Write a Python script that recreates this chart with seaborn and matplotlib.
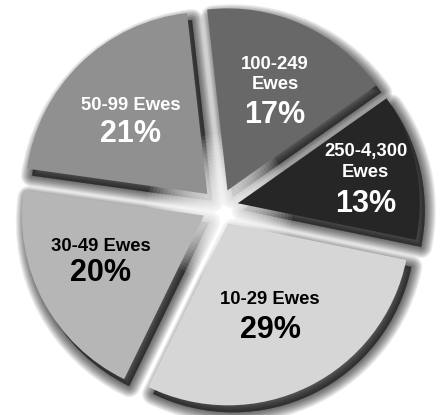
import matplotlib
matplotlib.use("Agg")
import matplotlib.pyplot as plt
import matplotlib.transforms as mtrans
import seaborn as sns
import numpy as np
from matplotlib.patches import Wedge, Circle

# ---- data ----
categories = ["250-4,300\nEwes", "100-249\nEwes", "50-99 Ewes", "30-49 Ewes", "10-29 Ewes"]
shares = [13, 17, 21, 20, 29]
pct_labels = ["13%", "17%", "21%", "20%", "29%"]
slice_colors = ["#262626", "#686868", "#909090", "#b6b6b6", "#d6d6d6"]
text_colors = ["white", "white", "white", "black", "black"]

sns.set_theme(style="white")
plt.rcParams["font.family"] = ["Liberation Sans", "DejaVu Sans"]

fig = plt.figure(figsize=(4.4, 4.15), dpi=100)
ax = fig.add_axes([0, 0, 1, 1])
ax.set_axis_off()

R = 182.0
explode = [0.1] * len(shares)
wedges, _ = ax.pie(shares, explode=explode, colors=slice_colors, startangle=-11.6,
                   counterclock=True, radius=1.0,
                   wedgeprops=dict(linewidth=0, zorder=4))

# blurred drop shadow (offset to lower right), many thin layers for softness
shift = mtrans.ScaledTranslation(5 / 100, -7 / 100, fig.dpi_scale_trans)
for w in wedges:
    for lw in np.arange(16, 0, -1.5):
        sh = Wedge(w.center, w.r, w.theta1, w.theta2, facecolor="black",
                   edgecolor="black", linewidth=lw, alpha=0.07, zorder=1,
                   joinstyle="round")
        sh.set_transform(ax.transData + shift)
        ax.add_patch(sh)

# soft white glow at the centre of the pie
for rr in np.linspace(0.4, 0.02, 20):
    ax.add_patch(Circle((0, 0), rr, facecolor="white", edgecolor="none",
                        alpha=0.09, zorder=2))

# label placement (polar, relative to pie centre)
ang_shift = [-2.5, -1.9, 1.5, -4.2, -1.3]
text_r = [0.811, 0.687, 0.684, 0.715, 0.652]
half_gap = [15.0, 14.6, 10.3, 9.7, 11.2]
for w, name, pct, tc, r, da, hg in zip(wedges, categories, pct_labels, text_colors,
                                        text_r, ang_shift, half_gap):
    mid = np.deg2rad((w.theta1 + w.theta2) / 2 + da)
    x, y = r * np.cos(mid), r * np.sin(mid)
    ax.annotate(name, (x, y), xytext=(0, hg), textcoords="offset points",
                ha="center", va="center", fontsize=13.3, fontweight="bold",
                color=tc, zorder=5, linespacing=1.28)
    ax.annotate(pct, (x, y), xytext=(0, -hg), textcoords="offset points",
                ha="center", va="center", fontsize=22, fontweight="bold",
                color=tc, zorder=5)

ax.set_aspect("auto")
ax.set_xlim(-220 / R, 220 / R)
ax.set_ylim(-208 / R, 207 / R)

fig.savefig("out.png", dpi=100, facecolor="white")
